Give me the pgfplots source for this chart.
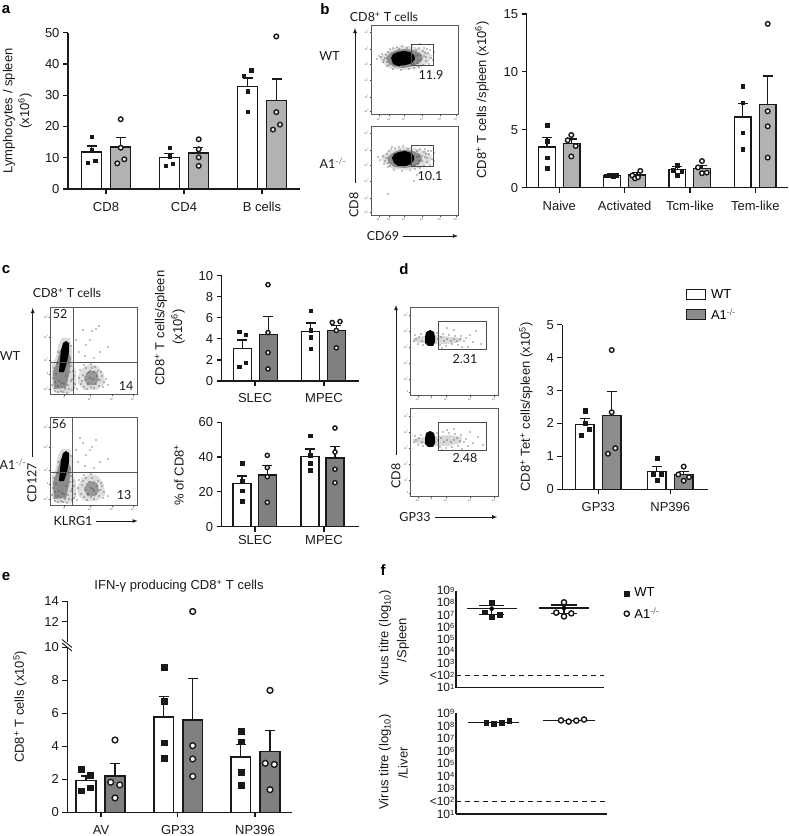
\documentclass[border=0pt]{standalone}
\usepackage{fontspec}
\setmainfont{Liberation Sans}
\newfontfamily\flowfont{Lato}
\usepackage{pgfplots}
\pgfplotsset{compat=1.18}
\definecolor{ink}{gray}{0.10}
\definecolor{lgray}{gray}{0.70}
\definecolor{dgray}{gray}{0.50}
\definecolor{mgray}{gray}{0.55}
\newcommand{\up}[1]{\textsuperscript{#1}}
\newcommand{\tk}[1]{10\textsuperscript{#1}}
\newcommand{\ttk}[1]{10\raisebox{2.6pt}{\fontsize{7.5}{7.5}\selectfont #1}}
\newcommand{\ko}{A1\textcolor{black!60}{\up{-/-}}}

\pgfplotsset{
  panel/.style={
    scale only axis, anchor=south west, clip=false, enlargelimits=false,
    axis x line*=bottom, axis y line*=left,
    axis line style={line width=1.3pt, ink},
    tick style={line width=1.2pt, ink}, tick align=outside,
    major tick length=5pt,
    every tick label/.append style={ink},
    tick label style={font=\fontsize{13}{15}\selectfont},
    /pgf/number format/assume math mode=true,
    xtick style={line width=1.2pt, ink},
    xticklabel style={yshift=-5pt},
  },
  barbase/.style={ybar, bar shift=0pt, bar width=#1, draw=ink, line width=1.35pt,
    error bars/y dir=plus, error bars/y explicit,
    error bars/error bar style={line width=1.2pt, ink},
    error bars/error mark options={rotate=90, mark size=5pt, line width=1.2pt, ink}},
  wtb/.style={barbase=#1, fill=white},
  wpts/.style={only marks, mark=square*, mark size=#1, ink, mark options={draw=ink, fill=ink, line width=0.2pt}},
  kpts/.style={only marks, mark=*, mark size=#1, mark options={draw=ink, fill=white, line width=1.4pt}},
  flow/.style={
    scale only axis, anchor=north west, enlargelimits=false, y dir=reverse,
    axis line style={line width=0.9pt, black!65},
    tick style={line width=0.35pt, black!70}, tick align=outside,
    major tick length=1.6pt, xtick pos=lower, ytick pos=left,
    tick label style={font=\fontsize{2.6}{3}\selectfont, black!70, inner sep=0.6pt},
    clip=true,
  },
  dots/.style={only marks, mark=*, mark size=0.38pt, black!80, mark options={draw=none, fill=black!80}},
  gatebox/.style={draw=black!70, line width=0.9pt},
  titre/.style={
    scale only axis, anchor=south west, clip=false, enlargelimits=false,
    ymin=1e1, ymax=1e9, xtick=\empty,
    axis x line*=bottom, axis y line*=left,
    axis line style={line width=1.4pt, ink},
    ytick={1e1,1e2,1e3,1e4,1e5,1e6,1e7,1e8,1e9},
    yticklabels={\ttk{1},{<\ttk{2}},\ttk{3},\ttk{4},\ttk{5},\ttk{6},\ttk{7},\ttk{8},\ttk{9}},
    major tick length=0pt, yminorticks=false, log origin=infty,
    tick label style={font=\fontsize{12}{12}\selectfont, ink, inner sep=1.5pt},
  },
  meanline/.style={line width=1.3pt, ink, forget plot},
  semline/.style={only marks, mark=none, forget plot,
    error bars/y dir=both, error bars/y explicit,
    error bars/error bar style={line width=1.1pt, ink},
    error bars/error mark options={rotate=90, mark size=12.7pt, line width=1.1pt, ink}},
  cutoff/.style={line width=1.2pt, ink, dash pattern=on 5pt off 4pt, forget plot},
}

\begin{document}
\begin{tikzpicture}
\path[use as bounding box] (0pt,0pt) rectangle (788pt,836pt);

% panel a
\begin{axis}[panel, at={(68pt,647pt)}, width=232pt, height=156.3pt,
  xmin=68, xmax=300, ymin=0, ymax=50, ytick={0,10,...,50},
  xtick={106,184,262}, xticklabels={CD8,CD4,B cells}]
\addplot[wtb=20pt] coordinates {(91.7,11.8) +- (0,1.95) (169.3,10) +- (0,1.3) (247.5,32.7) +- (0,2.8)};
\addplot[wtb=20pt, fill=lgray] coordinates {(120.7,13.4) +- (0,3.2) (198.3,11.5) +- (0,1.9) (276.5,28.4) +- (0,6.8)};
\addplot[wpts=1.7pt] coordinates {(91.7,16.7)(91.7,12.5)(87.7,8.5)(95,9)
  (169.3,13.3)(169.3,10.5)(165.7,7.4)(172.7,8.2)
  (251,38)(243.7,36.3)(247.3,31.3)(247.3,24.8)};
\addplot[kpts=2.3pt] coordinates {(120.7,22.3)(120.7,13.2)(117.3,8.2)(124.3,9.5)
  (198.7,15.9)(198.7,12.7)(198.7,10.1)(198.7,7.4)
  (276.3,48.8)(276.3,24.6)(280,20.6)(273,19)};
\end{axis}

% panel b, bars
\begin{axis}[panel, at={(526.7pt,648.3pt)}, width=261.3pt, height=173.7pt,
  xmin=526.7, xmax=788, ymin=0, ymax=15, ytick={0,5,10,15},
  xtick={559.3,624.7,690,755.3}, xticklabels={Naive,Activated,Tcm-like,Tem-like}]
\addplot[wtb=16.7pt] coordinates {(547,3.5) +- (0,0.8) (612,1.05) +- (0,0.15) (677.3,1.55) +- (0,0.25) (742.7,6.1) +- (0,1.2)};
\addplot[wtb=16.7pt, fill=lgray] coordinates {(571.7,3.8) +- (0,0.4) (637,1.1) +- (0,0.2) (702,1.65) +- (0,0.3) (767.7,7.2) +- (0,2.45)};
\addplot[wpts=1.8pt] coordinates {(547,5.4)(547,4)(547,2.6)(547,1.7)
  (606,1.05)(609.3,1.1)(613.3,1)(616.7,1.1)
  (677.3,1.95)(673.3,1.5)(681.7,1.45)(677.3,1.1)
  (742.7,8.75)(742.7,7.35)(742.7,4.75)(742.7,3.35)};
\addplot[kpts=2.3pt] coordinates {(571.3,4.55)(567.7,4.1)(575.7,3.6)(571.3,2.7)
  (640.3,1.45)(632.3,1.05)(635,0.8)(638,0.9)
  (702,2.3)(698,1.75)(702,1.25)(706.7,1.3)
  (767.7,14.15)(767.7,6.6)(767.7,5.3)(767.7,2.6)};
\end{axis}

% panel b, flow plots
\begin{axis}[flow, at={(371.3pt,810.7pt)}, width=86.7pt, height=89.4pt,
  xmin=371.3, xmax=458, ymin=25.3, ymax=114.7,
  xtick={378.7,389.3,404,422,440,456}, xticklabels={\tk{1},\tk{2},\tk{3},\tk{4},\tk{5},\tk{6}},
  ytick={31.7,49.3,64.3,80.3,96.7,110.7}, yticklabels={\tk{6},\tk{5},\tk{4},\tk{3},\tk{2},\tk{1}}]
\addplot[fill=black!13, draw=none] coordinates {(379,58)(385,53)(394,48)(404,46)(415,47)(425,50)(432,55)(430,62)(419,68)(404,70)(391,69)(383,64)} --cycle;
\addplot[fill=black!45, draw=none] coordinates {(386,58)(390,53)(397,50)(405,49)(413,50)(420,53)(423,58)(420,63)(413,66)(404,68)(394,67)(388,63)} --cycle;
\addplot[fill=black, draw=none] coordinates {(391,58)(393,54)(398,52)(404,51)(410,52)(414,55)(415,59)(412,63)(406,65)(398,66)(393,64)} --cycle;
\addplot[dots] coordinates {(377,59)(379,56)(381,57)(384,60)(386,55)(383,62)(388,52)(390,49)(393,48)(397,47)(402,46)(385,58)(382,54)(387,62)(389,65)
  (416,50)(419,48)(423,51)(427,49)(418,55)(424,56)(428,53)(431,58)(426,61)(421,60)(417,63)(423,65)(429,64)(414,68)(419,67)(409,69)(401,70)(393,69)(387,66)
  (434,52)(433,60)(420,44)(412,45)(416,56)(421,55)(425,53)(430,50)(418,60)(414,64)(426,57)(424,48)(407,48)(399,49)};
\addplot[gatebox] coordinates {(411.7,44.7)(433.7,44.7)(433.7,65.3)(411.7,65.3)} --cycle;
\end{axis}
\begin{axis}[flow, at={(371.3pt,709.3pt)}, width=86.7pt, height=88.3pt,
  xmin=371.3, xmax=458, ymin=126.7, ymax=215,
  xtick={378.7,389.3,404,422,440,456}, xticklabels={\tk{1},\tk{2},\tk{3},\tk{4},\tk{5},\tk{6}},
  ytick={132.7,150.3,165.3,181.3,197.7,211.7}, yticklabels={\tk{6},\tk{5},\tk{4},\tk{3},\tk{2},\tk{1}}]
\addplot[fill=black!13, draw=none] coordinates {(381,157)(387,152)(395,149)(404,147)(415,148)(425,151)(432,156)(430,163)(419,168)(405,170)(392,169)(384,163)} --cycle;
\addplot[fill=black!45, draw=none] coordinates {(387,158)(391,154)(397,151)(405,150)(413,151)(420,154)(422,159)(419,164)(412,167)(404,168)(394,167)(389,163)} --cycle;
\addplot[fill=black, draw=none] coordinates {(392,158)(394,154)(399,152)(405,151)(411,153)(414,156)(414,160)(411,164)(406,166)(398,166)(394,163)} --cycle;
\addplot[dots] coordinates {(378,157)(380,160)(383,156)(385,161)(387,154)(384,164)(389,151)(391,149)(395,148)(399,147)(403,146)(386,158)(388,163)(390,166)
  (417,151)(420,149)(424,152)(428,151)(419,156)(425,157)(429,154)(432,159)(427,162)(422,161)(418,164)(424,166)(430,165)(415,169)(420,168)(410,170)(402,171)(394,170)(388,167)
  (434,153)(434,161)(417,175)(414,181)(417,157)(422,156)(426,154)(431,151)(419,161)(415,165)(427,158)(425,149)(408,149)(400,150)(392,147)(388,194)};
\addplot[gatebox] coordinates {(411.7,145.7)(433.7,145.7)(433.7,166)(411.7,166)} --cycle;
\end{axis}

% panel c, flow plots
\begin{axis}[flow, at={(50.7pt,528.3pt)}, width=87pt, height=87pt,
  xmin=50.7, xmax=137.7, ymin=307.7, ymax=394.7,
  xtick={64,90,112,133}, xticklabels={0,\tk{3},\tk{4},\tk{5}},
  ytick={317,337,360,374,389}, yticklabels={\tk{5},\tk{4},\tk{3},0,-\tk{3}}]
\addplot[fill=black!14, draw=none] coordinates {(52,365)(56,357)(58,345)(62,338)(70,338)(72,350)(72,362)(76,372)(76,386)(70,393)(56,393)(52,388)} --cycle;
\addplot[fill=black!13, draw=none] coordinates {(78,376)(82,368)(90,364)(98,366)(104,374)(105,384)(97,390)(84,390)(78,384)} --cycle;
\addplot[fill=black!40, draw=none] coordinates {(84,377)(90,370)(97,372)(99,380)(95,385)(87,385)} --cycle;
\addplot[fill=black!45, draw=none] coordinates {(53,372)(57,362)(60,350)(66,348)(71,358)(69,375)(66,388)(54,389)} --cycle;
\addplot[fill=black, draw=none] coordinates {(59,372)(60,360)(61,350)(63,343)(66,341)(69,343)(69,352)(67,362)(64,372)} --cycle;
\addplot[dots] coordinates {(53,378)(55,382)(58,386)(61,391)(65,389)(68,385)(71,381)(74,376)(70,372)(66,376)(62,383)(75,384)(72,390)(67,393)(58,392)
  (54,368)(56,374)(52,385)(59,381)(64,384)(69,389)(73,371)(72,379)(74,388)(63,392)(55,391)(71,366)(57,363)(58,352)(71,346)
  (80,370)(83,375)(85,380)(88,384)(91,387)(94,372)(97,376)(100,380)(92,368)(86,368)(89,372)(93,379)(96,384)(81,384)(84,387)(99,386)(102,376)(104,382)(106,379)
  (79,378)(82,381)(87,373)(90,378)(95,367)(98,371)(101,372)(103,387)(94,388)(87,389)(91,364)(84,365)(108,385)(77,389)
  (79,352)(86,345)(92,331)(96,329)(99,326)(90,340)(100,352)(85,356)(94,358)(108,347)(76,340)(83,330)};
\addplot[draw=black!65, line width=0.9pt] coordinates {(73.3,307.7)(73.3,394.7)};
\addplot[draw=black!65, line width=0.9pt] coordinates {(50.7,362.7)(137.7,362.7)};
\end{axis}
\begin{axis}[flow, at={(50.7pt,418.3pt)}, width=87pt, height=87.6pt,
  xmin=50.7, xmax=137.7, ymin=417.7, ymax=505.3,
  xtick={64,90,112,133}, xticklabels={0,\tk{3},\tk{4},\tk{5}},
  ytick={427,447,470,484,499}, yticklabels={\tk{5},\tk{4},\tk{3},0,-\tk{3}}]
\addplot[fill=black!14, draw=none] coordinates {(52,476)(56,468)(58,455)(62,449)(70,449)(72,460)(72,472)(76,482)(76,497)(70,503)(56,503)(52,498)} --cycle;
\addplot[fill=black!13, draw=none] coordinates {(77,487)(82,478)(90,474)(98,476)(104,484)(105,495)(97,501)(84,501)(78,495)} --cycle;
\addplot[fill=black!40, draw=none] coordinates {(84,488)(90,481)(97,483)(99,491)(95,496)(87,496)} --cycle;
\addplot[fill=black!45, draw=none] coordinates {(53,482)(57,472)(60,460)(66,458)(71,468)(69,485)(66,498)(54,499)} --cycle;
\addplot[fill=black, draw=none] coordinates {(59,481)(60,470)(61,460)(63,453)(66,451)(69,453)(69,462)(67,472)(64,481)} --cycle;
\addplot[dots] coordinates {(53,488)(55,492)(58,496)(61,501)(65,499)(68,495)(71,491)(74,486)(70,482)(66,486)(62,493)(75,494)(72,500)(67,503)(58,502)
  (54,478)(56,484)(52,495)(59,491)(64,494)(69,499)(73,481)(72,489)(74,498)(63,502)(55,501)(71,476)(57,473)(58,462)(71,456)
  (79,480)(82,485)(85,490)(88,494)(91,497)(94,482)(97,486)(100,490)(92,478)(86,478)(89,482)(93,489)(96,494)(81,494)(84,497)(99,496)(102,486)(104,492)(94,491)(91,488)
  (78,488)(83,481)(87,484)(98,481)(101,483)(103,498)(94,499)(87,500)(91,474)(84,475)(108,496)(77,500)
  (78,462)(86,455)(92,447)(96,440)(80,438)(90,450)(100,462)(85,466)(94,468)(108,459)(76,450)(83,443)};
\addplot[draw=black!65, line width=0.9pt] coordinates {(72.7,417.7)(72.7,505.3)};
\addplot[draw=black!65, line width=0.9pt] coordinates {(50.7,472)(137.7,472)};
\end{axis}

% panel c, bars
\begin{axis}[panel, at={(221.7pt,455pt)}, width=137.6pt, height=105.3pt,
  xmin=221.7, xmax=359.3, ymin=0, ymax=10, ytick={0,2,...,10},
  xtick={255,324}, xticklabels={SLEC,MPEC}, xticklabel style={yshift=1pt}]
\addplot[wtb=18pt] coordinates {(242.3,3.07) +- (0,0.83) (310.7,4.7) +- (0,0.8)};
\addplot[wtb=18pt, fill=dgray] coordinates {(268.3,4.4) +- (0,1.7) (336.3,4.8) +- (0,0.5)};
\addplot[wpts=1.8pt] coordinates {(239,4.7)(245.7,4.4)(239,1.36)(245.7,1.74)
  (310.7,6.7)(310.7,4.85)(310.7,4.15)(310.7,3.07)};
\addplot[kpts=2.1pt] coordinates {(268,9.15)(268,4.6)(268,2.7)(268,1.15)
  (332.3,5.55)(340,5.65)(336.3,4.8)(336.3,3.15)};
\end{axis}
\begin{axis}[panel, at={(221.7pt,309.3pt)}, width=137.6pt, height=104.4pt,
  xmin=221.7, xmax=359.3, ymin=0, ymax=60, ytick={0,20,40,60},
  xtick={255,324}, xticklabels={SLEC,MPEC}, xticklabel style={yshift=5pt}]
\addplot[wtb=18pt] coordinates {(242,24.7) +- (0,4.4) (310,40.4) +- (0,4.2)};
\addplot[wtb=18pt, fill=dgray] coordinates {(267.3,29.7) +- (0,5.7) (335,39.5) +- (0,6.7)};
\addplot[wpts=1.8pt] coordinates {(242,36.6)(242,26.4)(242,20.7)(242,14.8)
  (310,52.3)(310,41.2)(310,36.4)(310,32.4)};
\addplot[kpts=2.1pt] coordinates {(267.3,41)(267.3,34)(267.3,28.7)(267.3,14)
  (335,56.7)(335,42.9)(335,33)(335,25.3)};
\end{axis}

% panel d, flow plots
\begin{axis}[flow, at={(410.7pt,528.3pt)}, width=87.6pt, height=87.3pt,
  xmin=410.7, xmax=498.3, ymin=307.7, ymax=395,
  xtick={418,431,446,470,494}, xticklabels={-\tk{3},0,\tk{3},\tk{4},\tk{5}},
  ytick={315,331,347,363,379,392}, yticklabels={\tk{5},\tk{4},\tk{3},\tk{2},\tk{1},0}]
\addplot[fill=black!15, draw=none] coordinates {(413,338)(424,336)(436,335)(450,337)(463,338)(460,342)(448,344)(436,344)(424,343)(414,342)} --cycle;
\addplot[fill=black, draw=none] coordinates {(425,337)(426,332)(430,330)(434,332)(435,337)(435,342)(433,346)(428,346)(425,343)} --cycle;
\addplot[dots] coordinates {(415,335)(418,344)(421,334)(423,345)(437,333)(440,345)(443,334)(446,346)(449,335)(452,344)(455,336)(458,345)(461,336)(464,341)(466,338)(470,335)(473,342)(476,331)(481,344)(454,330)(447,328)(462,347)(442,348)(468,347)
  (416,339)(419,337)(422,341)(438,339)(441,337)(444,341)(447,339)(451,341)(454,339)(457,341)(460,339)(414,341)};
\addplot[gatebox] coordinates {(438.7,321)(486.3,321)(486.3,349.3)(438.7,349.3)} --cycle;
\end{axis}
\begin{axis}[flow, at={(410.7pt,427.3pt)}, width=87.6pt, height=87.3pt,
  xmin=410.7, xmax=498.3, ymin=408.7, ymax=496,
  xtick={418,431,446,470,494}, xticklabels={-\tk{3},0,\tk{3},\tk{4},\tk{5}},
  ytick={416,432,448,464,480,493}, yticklabels={\tk{5},\tk{4},\tk{3},\tk{2},\tk{1},0}]
\addplot[fill=black!15, draw=none] coordinates {(413,439)(424,437)(436,436)(450,435)(462,437)(461,443)(448,446)(436,446)(424,444)(414,443)} --cycle;
\addplot[fill=black, draw=none] coordinates {(425,438)(426,433)(430,431)(434,433)(435,438)(435,443)(433,447)(428,447)(425,444)} --cycle;
\addplot[dots] coordinates {(415,436)(418,445)(421,435)(423,446)(437,433)(440,447)(443,432)(446,448)(449,433)(452,447)(455,434)(458,446)(461,435)(464,442)(466,439)(470,432)(473,443)(478,437)(483,445)(454,429)(447,430)(462,449)(442,450)(468,446)
  (416,440)(419,438)(422,442)(438,440)(441,438)(444,442)(447,440)(451,442)(454,440)(457,438)(460,441)(414,442)};
\addplot[gatebox] coordinates {(438.7,422)(486.3,422)(486.3,450.3)(438.7,450.3)} --cycle;
\end{axis}

% panel d, bars
\begin{axis}[panel, at={(562.3pt,346.7pt)}, width=145.7pt, height=164.6pt,
  xmin=562.3, xmax=708, ymin=0, ymax=5, ytick={0,...,5},
  xtick={598.3,670.3}, xticklabels={GP33,NP396},
  legend style={at={(axis description cs:0.847,1.229)}, anchor=north west, draw=none, fill=none,
    inner sep=0pt, row sep=5pt, font=\fontsize{13}{15}\selectfont, nodes={inner xsep=5pt}},
  legend cell align=left,
  legend image code/.code={\draw[draw=ink, line width=1.1pt, #1] (0pt,-5pt) rectangle (19pt,5pt);}]
\addplot[wtb=18.7pt] coordinates {(584.7,1.97) +- (0,0.17) (656.7,0.55) +- (0,0.14)};
\addlegendentry{WT}
\addplot[wtb=18.7pt, fill=mgray] coordinates {(611.7,2.24) +- (0,0.72) (683.7,0.45) +- (0,0.09)};
\addlegendentry{\ko}
\addplot[wpts=2.1pt, forget plot] coordinates {(584.7,2.39)(584.7,2)(588.7,1.84)(581,1.65)
  (656.7,0.95)(652.7,0.47)(660.7,0.47)(656.7,0.28)};
\addplot[kpts=2.3pt, forget plot] coordinates {(611.7,4.23)(611.7,2.34)(615.3,1.25)(608,1.08)
  (683.7,0.69)(678.3,0.45)(689,0.37)(683.7,0.26)};
\end{axis}

% panel e, lower part of the broken axis
\begin{axis}[panel, at={(67.3pt,23.7pt)}, width=224.4pt, height=165pt,
  xmin=67.3, xmax=291.7, ymin=0, ymax=10, ytick={0,2,...,10},
  xtick={101,177.7,255}, xticklabels={AV,GP33,NP396}]
\addplot[wtb=19.7pt] coordinates {(86,1.94) +- (0,0.26) (163.7,5.78) +- (0,1.22) (240.7,3.35) +- (0,0.75)};
\addplot[wtb=19.7pt, fill=dgray] coordinates {(115,2.2) +- (0,0.75) (192.7,5.6) +- (0,2.5) (270,3.7) +- (0,1.27)};
\addplot[wpts=2.9pt] coordinates {(81,2.6)(90.3,2.24)(81,1.31)(90.3,1.5)
  (163.7,8.79)(163.7,6.75)(163.7,4.22)(163.7,3.29)
  (240.7,4.9)(240.7,4.28)(240.7,2.46)(240.7,1.66)};
\addplot[kpts=2.9pt] coordinates {(115,4.38)(110.7,1.82)(119.7,1.66)(115,0.87)
  (192.7,4.04)(192.7,3.23)(192.7,2.18)
  (270,7.39)(265.3,2.97)(274.3,2.9)(270,1.37)};
\end{axis}
% panel e, upper part
\begin{axis}[panel, at={(67.3pt,194.3pt)}, width=224.4pt, height=40.3pt,
  xmin=67.3, xmax=291.7, ymin=10, ymax=14, ytick={12,14},
  axis x line=none, axis y line*=left]
\addplot[kpts=2.9pt] coordinates {(192.7,13)};
\end{axis}

% panel f
\begin{semilogyaxis}[titre, at={(456pt,148.3pt)}, width=148pt, height=97pt,
  xmin=456, xmax=604,
  legend style={at={(axis description cs:1.135,1.05)}, anchor=north west, draw=none, fill=none,
    inner sep=0pt, row sep=5pt, font=\fontsize{13}{15}\selectfont, nodes={inner xsep=5pt}},
  legend cell align=left]
\addplot[wpts=2.4pt] coordinates {(491.7,1.02e8)(484.3,1.7e7)(499.3,1.05e7)(491.7,7.2e6)};
\addlegendentry{WT}
\addplot[kpts=2.6pt] coordinates {(564,1.1e8)(556.3,1.55e7)(571.3,1.35e7)(564,7.6e6)};
\addlegendentry{\ko}
\addplot[meanline] coordinates {(467,3.3e7)(516.7,3.3e7)};
\addplot[meanline] coordinates {(539,3.7e7)(589,3.7e7)};
\addplot[semline] coordinates {(491.7,3.3e7) += (0,2.5e7) -= (0,2.18e7) (564,3.7e7) += (0,2.9e7) -= (0,2.44e7)};
\addplot[cutoff] coordinates {(456,1e2)(604,1e2)};
\end{semilogyaxis}
\begin{semilogyaxis}[titre, at={(456pt,22pt)}, width=151.3pt, height=100.7pt,
  xmin=456, xmax=607.3]
\addplot[wpts=2.4pt] coordinates {(486,1.7e8)(493.7,1.6e8)(501.3,1.7e8)(509,2.6e8)};
\addplot[kpts=2.6pt] coordinates {(561,2.75e8)(568.7,2.2e8)(576.3,2.6e8)(584,3.2e8)};
\addplot[meanline] coordinates {(468,1.9e8)(519.3,1.9e8)};
\addplot[meanline] coordinates {(543,2.75e8)(594.7,2.75e8)};
\addplot[cutoff] coordinates {(456,1e2)(607.3,1e2)};
\end{semilogyaxis}

% texts and arrows, in pixels of the picture, y downwards
\begin{scope}[x=1pt, y=-1pt, shift={(0pt,836pt)}, every node/.style={inner sep=0pt, text=ink, font=\fontsize{13}{15}\selectfont}]
% break marks on the y axis of panel e
\draw[line width=0.9pt, ink] (62,639.5) -- (72,647.5) (62,643) -- (72,651);
% panel letters
\foreach \l/\x/\y in {a/6/10, b/325/9, c/6/270, d/404/269, e/6/577, f/383/570}
  \node[font=\fontsize{15}{15}\selectfont\bfseries, text=black] at (\x,\y) {\l};
% y titles
\node[rotate=90] at (9,111) {Lymphocytes / spleen};
\node[rotate=90] at (25,111) {(x10\up{6})};
\node[rotate=90] at (482,100) {CD8\up{+} T cells /spleen (x10\up{6})};
\node[rotate=90] at (161,328) {CD8\up{+} T cells/spleen};
\node[rotate=90] at (178,327) {(x10\up{6})};
\node[rotate=90] at (179,475) {\% of CD8\up{+}};
\node[rotate=90] at (526,407) {CD8\up{+} Tet\up{+} cells/spleen (x10\up{5})};
\node[rotate=90] at (20,707) {CD8\up{+} T cells (x10\up{5})};
\node at (179,586) {IFN-γ producing CD8\up{+} T cells};
\node[rotate=90] at (385,638) {Virus titre (log\textsubscript{10})};
\node[rotate=90] at (403,640) {/Spleen};
\node[rotate=90] at (385,762) {Virus titre (log\textsubscript{10})};
\node[rotate=90] at (403,763) {/Liver};
% flow cytometry labels
\begin{scope}[every node/.append style={font=\flowfont\fontsize{12.5}{15}\selectfont}]
\node at (384,17) {CD8\up{+} T cells};
\node at (329.5,56) {WT};
\node at (333,163) {\ko};
\node at (431,75) {11.9};
\node at (430,176) {10.1};
\node[rotate=90] at (354,205) {CD8};
\node at (383,236) {CD69};
\node at (67,293) {CD8\up{+} T cells};
\node at (10,356) {WT};
\node at (13,464) {\ko};
\node at (60,314) {52};
\node at (126,386) {14};
\node at (59,424) {56};
\node at (124,495) {13};
\node[rotate=90] at (32,483) {CD127};
\node at (73,521) {KLRG1};
\node at (465,359) {2.31};
\node at (465,458) {2.48};
\node[rotate=90] at (396,476) {CD8};
\node at (415,517) {GP33};
\end{scope}
% arrows
\draw[-latex, line width=0.8pt, ink] (355,183) -- (355,28);
\draw[-latex, line width=0.8pt, ink] (403,236) -- (458,236);
\draw[-latex, line width=0.8pt, ink] (32.7,457) -- (32.7,308);
\draw[-latex, line width=0.8pt, ink] (96,521) -- (137.7,521);
\draw[-latex, line width=0.8pt, ink] (396,455) -- (396,305);
\draw[-latex, line width=0.8pt, ink] (435,517) -- (497.3,517);
\end{scope}
\end{tikzpicture}
\end{document}
